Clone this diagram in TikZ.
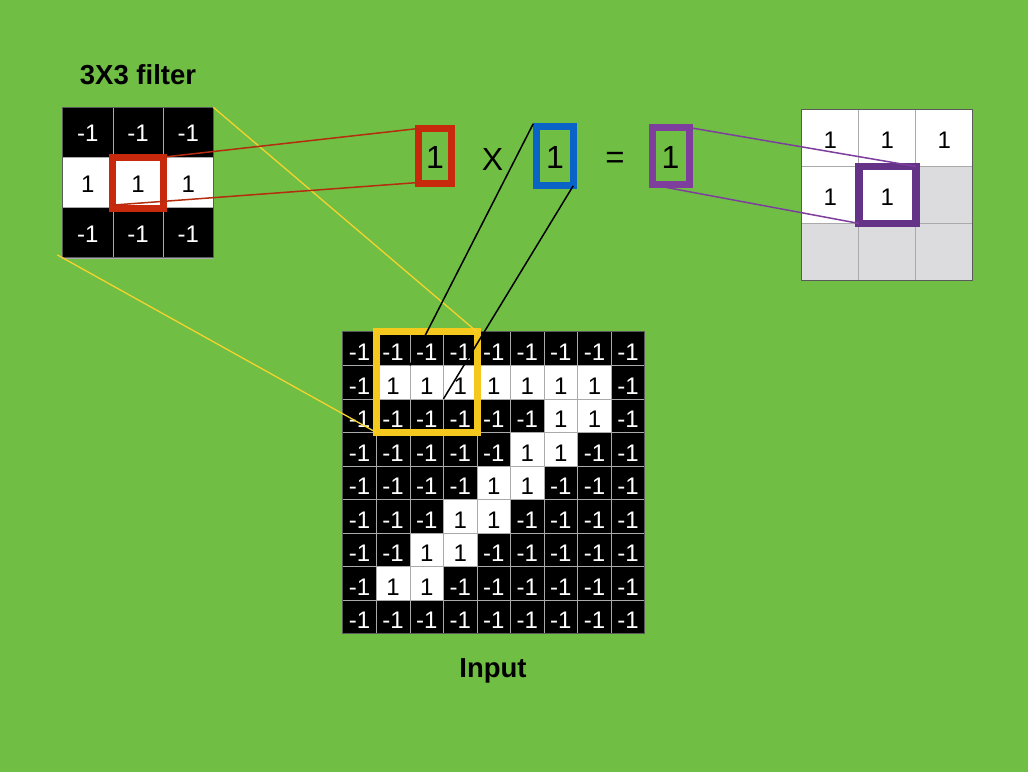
\documentclass[tikz,border=0pt]{standalone}
\usepackage{fontspec}
\setmainfont{Liberation Sans}
\usetikzlibrary{calc}
\definecolor{bg}{RGB}{112,191,68}
\definecolor{gridgray}{RGB}{170,170,170}
\definecolor{framegray}{RGB}{90,90,90}
\definecolor{lightgray}{RGB}{220,220,222}
\definecolor{boxred}{RGB}{200,40,12}
\definecolor{linered}{RGB}{180,45,15}
\definecolor{boxblue}{RGB}{10,100,200}
\definecolor{boxpurple}{RGB}{125,62,158}
\definecolor{outpurple}{RGB}{100,50,135}
\definecolor{boxyellow}{RGB}{245,200,30}
\definecolor{lineyellow}{RGB}{245,210,45}
\tikzset{
  cellbase/.style={draw=gridgray, line width=0.8pt, inner sep=0pt, outer sep=0pt, font=\fontsize{24}{24}\selectfont, text depth=0pt},
  blackcell/.style={cellbase, fill=black, text=white},
  whitecell/.style={cellbase, fill=white, text=black},
  graycell/.style={cellbase, fill=lightgray},
  frame/.style={draw=framegray, line width=1pt, inner sep=0pt, outer sep=0pt},
  hlbox/.style={draw, line width=7pt, inner sep=0pt, outer sep=0pt, fill=none},
  eqtext/.style={inner sep=0pt, font=\fontsize{32}{32}\selectfont},
  title/.style={inner sep=0pt, font=\fontsize{27.5}{27.5}\selectfont\bfseries},
  conn/.style={line width=1.5pt}
}
\begin{document}
\begin{tikzpicture}[x=1pt,y=-1pt]
\fill[bg] (0,0) rectangle (1028,772);
\useasboundingbox (0,0) rectangle (1028,772);

% ---------- 3x3 filter ----------
\foreach \row [count=\r from 0] in {{0,0,0},{1,1,1},{0,0,0}} {
  \foreach \v [count=\c from 0] in \row {
    \ifnum\v=1
      \node[whitecell, text height=19pt, minimum size=50.2pt] (f-\r-\c) at ({62.7+50.2*(\c+0.5)},{107.3+50.2*(\r+0.5)}) {1};
    \else
      \node[blackcell, text height=19pt, minimum size=50.2pt] (f-\r-\c) at ({62.7+50.2*(\c+0.5)},{107.3+50.2*(\r+0.5)}) {-1};
    \fi
  }
}
\node[frame, minimum size=150.6pt] (filter) at (f-1-1) {};
\node[title] (ftitle) at (138,75) {3X3 filter};

% ---------- input 9x9 ----------
\foreach \row [count=\r from 0] in {
  {0,0,0,0,0,0,0,0,0},
  {0,1,1,1,1,1,1,1,0},
  {0,0,0,0,0,0,1,1,0},
  {0,0,0,0,0,1,1,0,0},
  {0,0,0,0,1,1,0,0,0},
  {0,0,0,1,1,0,0,0,0},
  {0,0,1,1,0,0,0,0,0},
  {0,1,1,0,0,0,0,0,0},
  {0,0,0,0,0,0,0,0,0}} {
  \foreach \v [count=\c from 0] in \row {
    \ifnum\v=1
      \node[whitecell, text height=24pt, minimum size=33.55pt] (in-\r-\c) at ({342.8+33.55*(\c+0.5)},{331.8+33.55*(\r+0.5)}) {1};
    \else
      \node[blackcell, text height=24pt, minimum size=33.55pt] (in-\r-\c) at ({342.8+33.55*(\c+0.5)},{331.8+33.55*(\r+0.5)}) {-1};
    \fi
  }
}
\node[frame, minimum size=301.95pt] (input) at (in-4-4) {};
\node[title] (ilabel) at (493,671) {Input};

% ---------- output 3x3 ----------
\foreach \row [count=\r from 0] in {{1,1,1},{1,1,0},{0,0,0}} {
  \foreach \v [count=\c from 0] in \row {
    \ifnum\v=1
      \node[whitecell, text height=22pt, minimum size=57pt] (o-\r-\c) at ({801.8+57*(\c+0.5)},{109.4+57*(\r+0.5)}) {1};
    \else
      \node[graycell, minimum size=57pt] (o-\r-\c) at ({801.8+57*(\c+0.5)},{109.4+57*(\r+0.5)}) {};
    \fi
  }
}
\node[frame, minimum size=171pt] (output) at (o-1-1) {};

% ---------- equation ----------
\node[eqtext] (ra) at (435,157) {1};
\node[eqtext] (times) at (492.5,159) {X};
\node[eqtext, font=\fontsize{33}{33}\selectfont] (eq) at (615,160) {=};
\node[eqtext] (bb) at (555,157) {1};
\node[eqtext] (pc) at (670.5,157) {1};

% ---------- highlight boxes ----------
\node[hlbox, draw=boxred, minimum size=51pt] (fbox) at (f-1-1) {};
\node[hlbox, draw=boxred, minimum width=33pt, minimum height=55pt] (rbox) at (435,156) {};
\node[hlbox, draw=boxblue, minimum width=37pt, minimum height=59pt] (bbox) at (554.7,156.3) {};
\node[hlbox, draw=boxpurple, minimum width=36.7pt, minimum height=57.3pt] (pbox) at (670.8,156.2) {};
\node[hlbox, draw=outpurple, line width=7.5pt, minimum size=57pt] (obox) at (o-1-1) {};
\node[hlbox, draw=boxyellow, minimum size=100.65pt] (ybox) at (in-1-2) {};

% ---------- connectors ----------
\draw[conn, lineyellow, line width=1.3pt] (filter.north east) -- (ybox.north east);
\draw[conn, lineyellow, line width=1.3pt, shorten <=-6pt] (filter.south west) -- (ybox.south west);
\draw[conn, linered] (fbox.north east) -- (rbox.north west);
\draw[conn, linered] ([yshift=3pt]fbox.south west) -- ([yshift=1pt]rbox.south west);
\draw[conn, black] ([xshift=-3pt,yshift=3pt]bbox.north west) -- (in-1-2.north west);
\draw[conn, black] (bbox.south east) -- (in-1-2.south east);
\draw[conn, boxpurple] (pbox.north east) -- (obox.north east);
\draw[conn, boxpurple] (pbox.south west) -- (obox.south west);
\end{tikzpicture}
\end{document}
